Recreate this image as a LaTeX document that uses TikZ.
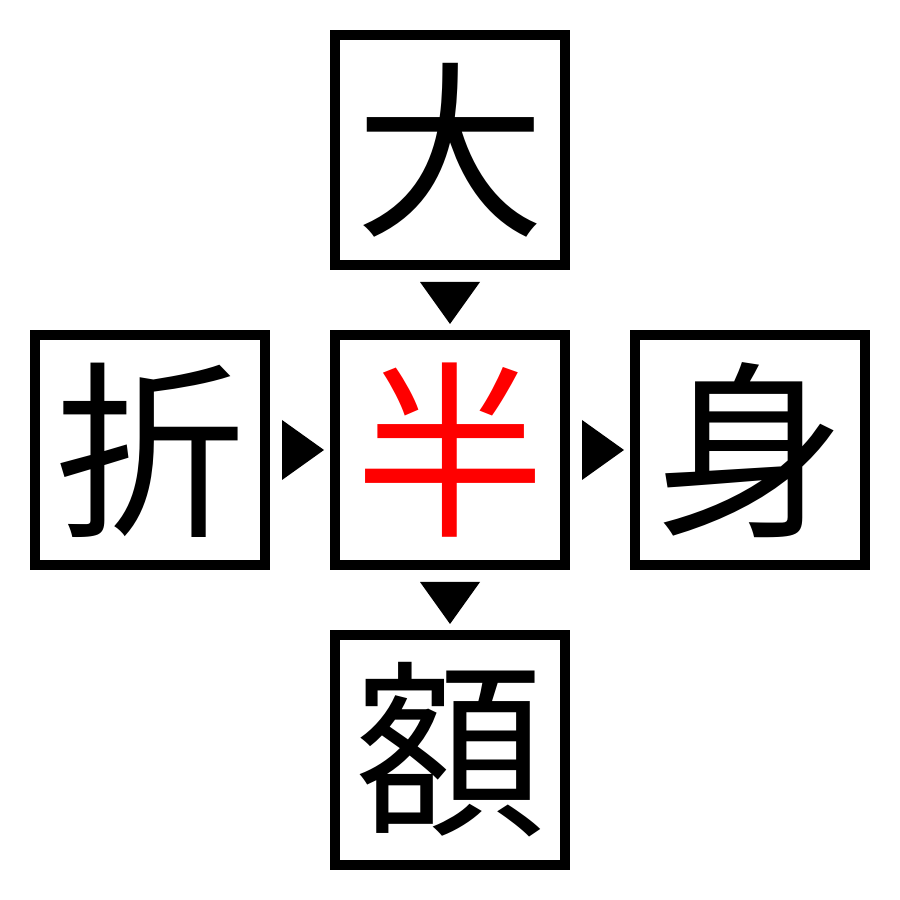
\documentclass[tikz,border=0pt]{standalone}
\usepackage{fontspec}
\newfontfamily\cjkfont{Noto Sans CJK JP}
\usepackage{tikz}
\usetikzlibrary{calc}
\usetikzlibrary{positioning}
\newcommand{\sizecell}{2.3cm}
\tikzset{
    cell/.style={draw, rectangle, line width=1mm, minimum size=\sizecell, inner sep=0pt,
        font=\cjkfont\fontsize{54}{54}\selectfont},
    hub/.style={cell, text=red},
    marker/.style={fill=black}
}

\begin{document}
\begin{tikzpicture}
    \useasboundingbox (0,0) rectangle (9,9);
    \node[hub] (mid) at (4.5,4.5) {半};
    \node[cell, above=0.6cm of mid] (up) {大};
    \node[cell, left=0.6cm of mid] (lt) {折};
    \node[cell, right=0.6cm of mid] (rt) {身};
    \node[cell, below=0.6cm of mid] (dn) {額};

    % down markers
    \foreach \a/\b in {up/mid, mid/dn}
        \fill[marker] ($(\a.south)+(-0.3,-0.12)$) -- ($(\a.south)+(0.3,-0.12)$)
            -- ($(\a.south)+(0,-0.54)$) -- cycle;
    % right markers
    \foreach \a/\b in {lt/mid, mid/rt}
        \fill[marker] ($(\a.east)+(0.12,0.3)$) -- ($(\a.east)+(0.12,-0.3)$)
            -- ($(\a.east)+(0.54,0)$) -- cycle;
\end{tikzpicture}
\end{document}
